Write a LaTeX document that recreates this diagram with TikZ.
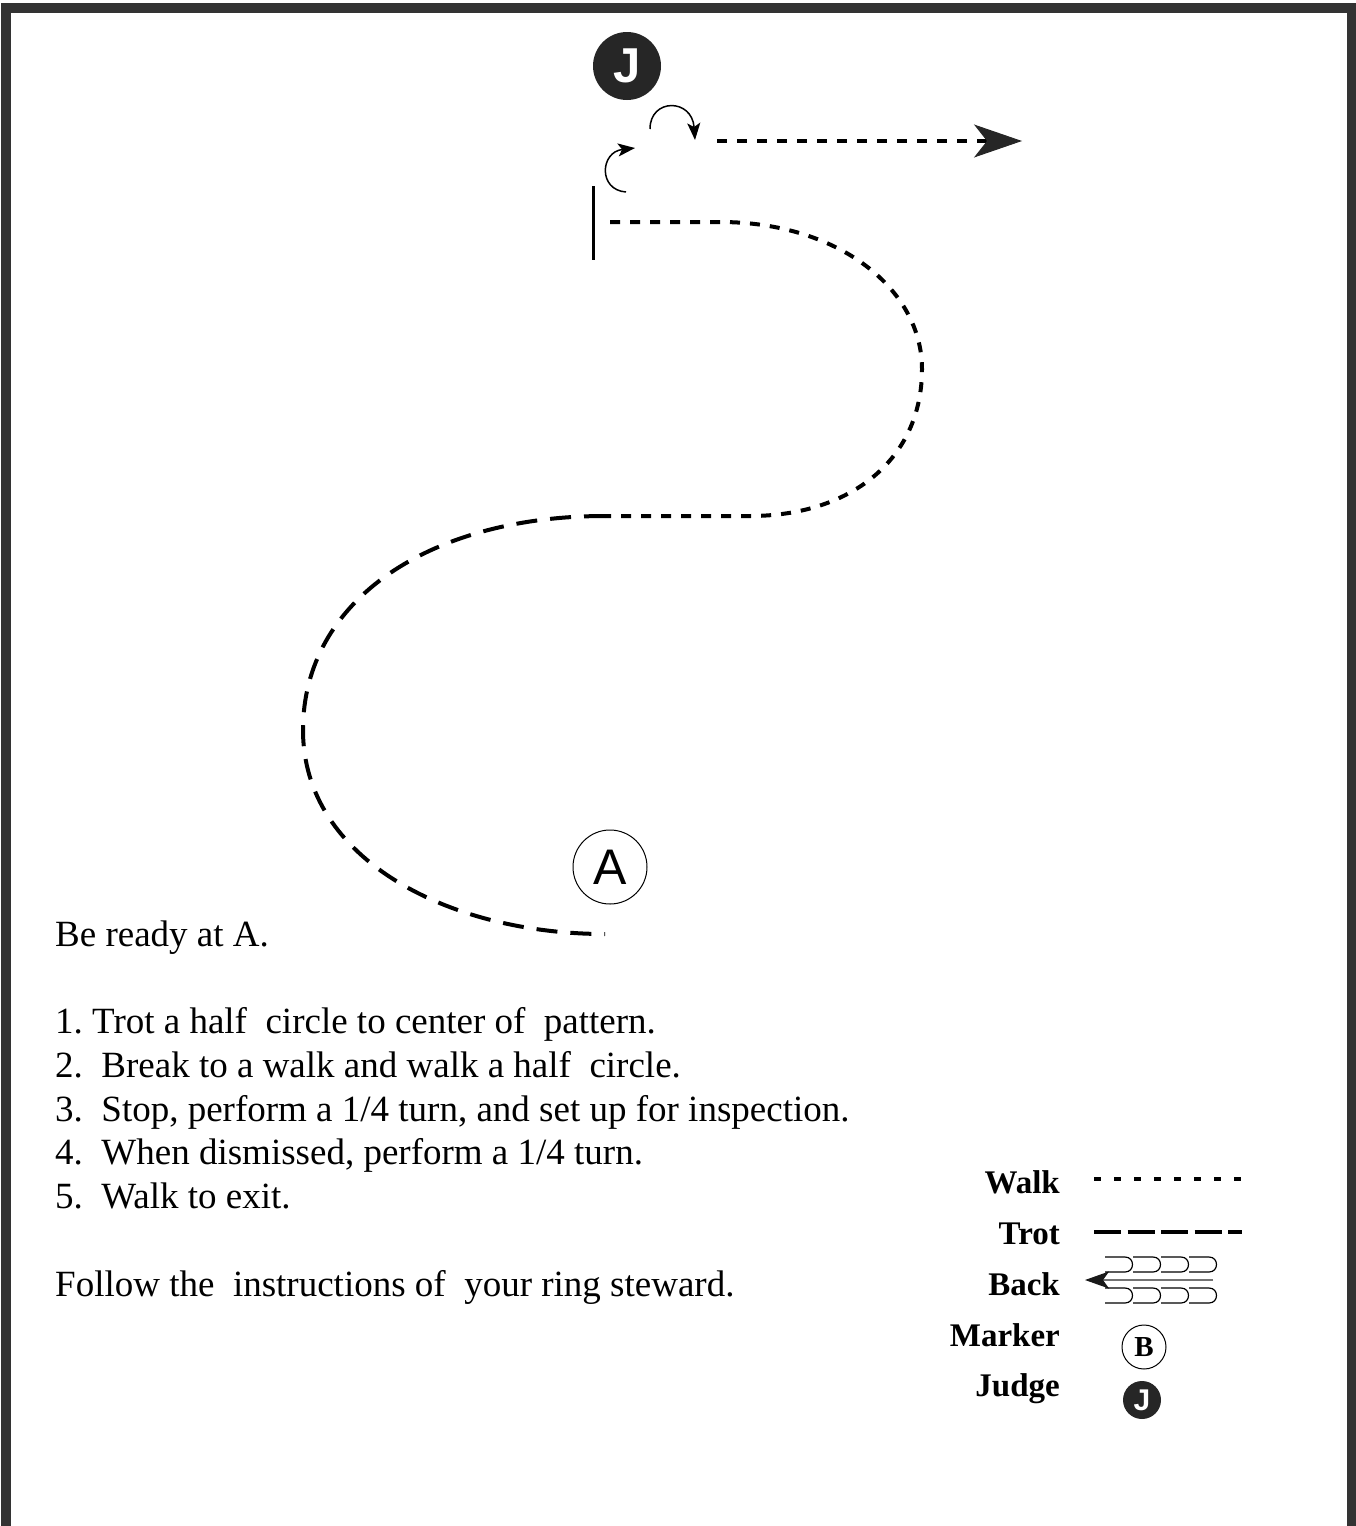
\documentclass[tikz,border=0pt]{standalone}
\usepackage{fontspec}
\setmainfont{Liberation Serif}
\newfontfamily\signfont{Liberation Sans}
\usetikzlibrary{arrows.meta,positioning}

\begin{document}
\begin{tikzpicture}[x=1pt,y=-1pt,
    walk/.style={line width=4pt,dash pattern=on 10pt off 10pt},
    trot/.style={line width=4pt,dash pattern=on 21pt off 13pt},
    turn/.style={line width=1.5pt,-{Stealth[length=17pt,width=13pt,inset=4pt]}},
    judge disc/.style={circle,fill=black!85,text=white,inner sep=0pt},
    marker/.style={circle,draw,line width=1pt,inner sep=0pt},
    note/.style={anchor=base west,inner sep=0pt,font=\fontsize{37}{44}\selectfont},
    key/.style={anchor=base east,inner sep=0pt,font=\fontsize{33}{40}\selectfont\bfseries}]

\useasboundingbox (0,0) rectangle (1356,1526);
% frame
\draw[line width=10pt,black!80] (6,7.5) rectangle (1351.5,1600);

% judge and marker
\node[judge disc,minimum size=68pt,font=\fontsize{49}{49}\signfont\bfseries] (J) at (627,66) {J};
\node[marker,minimum size=74pt,font=\fontsize{50}{50}\signfont] (A) at (610,867) {A};

% pattern
\coordinate (stop) at (593,223);
\coordinate (center) at (605,516);
\coordinate (start) at (605,934);
\coordinate (exit) at (1022,141);

\draw[line width=3pt] (593,186) -- (593,260);
\draw[walk] (stop) ++(17,-1) -- (720,222) .. controls (840,222) and (922,290) .. (922,369)
    .. controls (922,460) and (850,516) .. (750,516) -- (center);
\draw[trot] (center) .. controls (430,516) and (303,600) .. (303,730)
    .. controls (303,860) and (450,934) .. (start);

\draw[turn] (626,192) .. controls (598,190) and (600,152) .. (635,148);
\draw[turn] (650,129) .. controls (650,98) and (692,98) .. (695,140);
\draw[walk,-{Stealth[length=48pt,width=33pt,inset=13pt,line width=1pt,fill=black!85,color=black!85]}] (717,141) -- (exit);

% instructions
\node[note] (ready) at (55,946) {Be ready at A.};
\node[note] (step1) at (55,1033) {1.\ Trot a half\ \ circle to center of\ \ pattern.};
\node[note] (step2) at (55,1077) {2.\ \ Break to a walk and walk a half\ \ circle.};
\node[note] (step3) at (55,1121) {3.\ \ Stop, perform a 1/4 turn, and set up for inspection.};
\node[note] (step4) at (55,1164) {4.\ \ When dismissed, perform a 1/4 turn.};
\node[note] (step5) at (55,1208) {5.\ \ Walk to exit.};
\node[note] (follow) at (55,1296) {Follow the\ \ instructions of\ \ your ring steward.};

% legend
\node[key] (walkkey) at (1060,1193) {Walk};
\node[key] (trotkey) at (1060,1244) {Trot};
\node[key] (backkey) at (1060,1295) {Back};
\node[key] (markkey) at (1060,1346) {Marker};
\node[key] (judgekey) at (1060,1396) {Judge};

\draw[line width=3.5pt,dash pattern=on 7pt off 13pt] (walkkey.base east) ++(34,-14) -- ++(148,0);
\draw[line width=3.5pt,dash pattern=on 27pt off 6.5pt] (trotkey.base east) ++(34,-12) -- ++(148,0);
\draw[line width=1.2pt,black!55,-{Stealth[length=24pt,width=17pt,inset=6pt,color=black!90]}]
    (backkey.base east) ++(153,-15) -- ++(-128,0);
\foreach \u in {0,28,56,84} {
  \draw[line width=1.2pt] (1105+\u,1257) -- ++(20,0) .. controls ++(10,0) and ++(10,0) .. ++(0,15) -- ++(-20,0);
  \draw[line width=1.2pt] (1105+\u,1288) -- ++(20,0) .. controls ++(10,0) and ++(10,0) .. ++(0,15) -- ++(-20,0);
}
\node[marker,minimum size=44pt,font=\fontsize{29}{29}\selectfont\bfseries] (B) at (1144,1347) {B};
\node[judge disc,minimum size=38pt,font=\fontsize{30}{30}\signfont\bfseries] (Jkey) at (1142,1400) {J};

\end{tikzpicture}
\end{document}
